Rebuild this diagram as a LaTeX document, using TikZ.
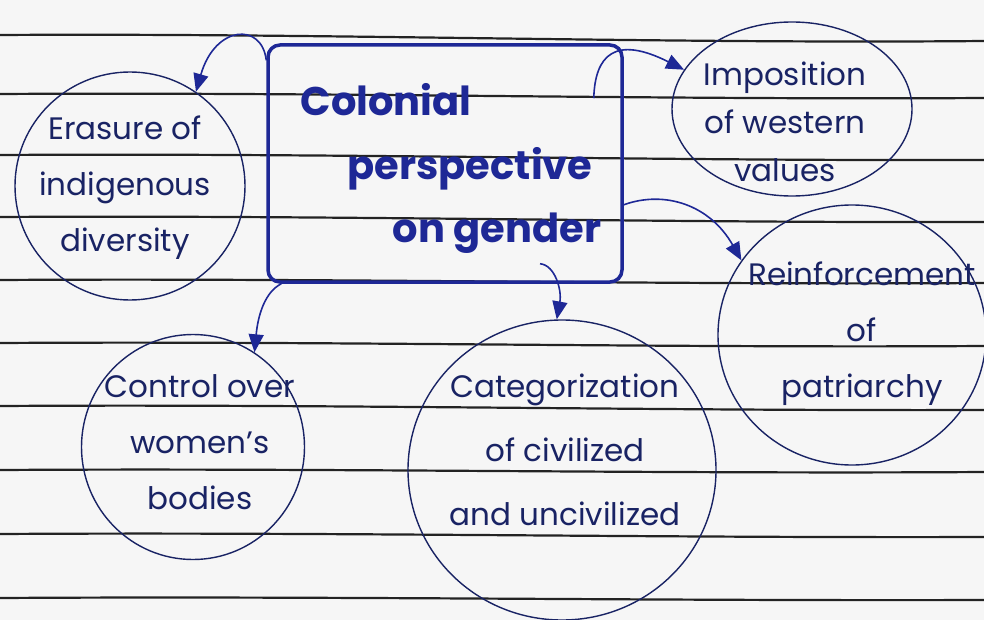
\documentclass[tikz,border=0pt]{standalone}
\usepackage{fontspec}
\setmainfont{Poppins}
\usetikzlibrary{arrows.meta,shapes.geometric,calc}
\definecolor{paper}{RGB}{246,246,246}
\definecolor{rulec}{RGB}{35,35,35}
\definecolor{ink}{RGB}{30,40,150}
\definecolor{navy}{RGB}{25,35,100}
\tikzset{
 ruleline/.style={draw=rulec, line width=2.2pt},
 bubble/.style={draw=navy, line width=1.4pt, ellipse, inner sep=0pt},
 bubbletext/.style={text=navy, align=center, font=\fontsize{31}{56}\selectfont},
 mainbox/.style={draw=ink, line width=3.5pt, rounded corners=12pt, rectangle, inner sep=0pt},
 maintext/.style={text=ink, font=\bfseries\fontsize{40}{46}\selectfont, anchor=base},
 conn/.style={draw=ink, line width=1.6pt, -{Triangle[length=18pt,width=15pt]}},
}
\begin{document}
\begin{tikzpicture}[x=1pt,y=-1pt]
\useasboundingbox (0,0) rectangle (984,620);
\fill[paper] (0,0) rectangle (984,620);
% ruled lines
\draw[ruleline] (0,35) .. controls (330,33) and (660,44) .. (984,41);
\draw[ruleline] (0,94) .. controls (330,92) and (660,100) .. (984,98);
\draw[ruleline] (0,155) .. controls (330,153) and (660,161) .. (984,160);
\draw[ruleline] (0,217) .. controls (330,215) and (660,223) .. (984,222);
\draw[ruleline] (0,280) .. controls (330,278) and (660,285) .. (984,283);
\draw[ruleline] (0,343) .. controls (330,341) and (660,348) .. (984,346);
\draw[ruleline] (0,406) .. controls (330,404) and (660,411) .. (984,410);
\draw[ruleline] (0,470) .. controls (330,468) and (660,474) .. (984,472);
\draw[ruleline] (0,534) .. controls (330,532) and (660,538) .. (984,537);
\draw[ruleline] (0,598) .. controls (330,596) and (660,601) .. (984,600);
% central box
\node[mainbox, minimum width=354pt, minimum height=237pt] (main) at (445,163.5) {};
\node[maintext] (t1) at (386,116) {Colonial};
\node[maintext] (t2) at (470,180) {perspective};
\node[maintext] (t3) at (497,242) {on gender};
% bubbles
\node[bubble, minimum width=230pt, minimum height=228pt] (erasure) at (130,186) {};
\node[bubbletext] (erasureT) at (125,188) {Erasure of\\indigenous\\diversity};
\node[bubble, minimum width=240pt, minimum height=174pt] (impos) at (792,109) {};
\node[bubbletext, font=\fontsize{31}{48}\selectfont] (imposT) at (785,122) {Imposition\\of western\\values};
\node[bubble, minimum width=268pt, minimum height=260pt] (reinf) at (852,335) {};
\node[bubbletext] (reinfT) at (862,334) {Reinforcement\\of\\patriarchy};
\node[bubble, minimum width=223pt, minimum height=225pt] (control) at (193,447) {};
\node[bubbletext] (controlT) at (200,442) {Control over\\women's\\bodies};
\node[bubble, minimum width=308pt, minimum height=300pt] (categ) at (562,470) {};
\node[bubbletext, font=\fontsize{31}{64}\selectfont] (categT) at (565,450) {Categorization\\of civilized\\and uncivilized};
% connectors
\draw[conn] (main.150) .. controls (262,22) and (215,25) .. (erasure.55);
\draw[conn] ($(main.north east)+(-30,55)$) .. controls (595,55) and (615,35) .. (impos.160);
\draw[conn] (main.-13) .. controls (665,190) and (710,205) .. (reinf.146);
\draw[conn] ($(main.south)+(95,-20)$) .. controls (555,265) and (562,290) .. (categ.92);
\draw[conn] ($(main.south west)+(15,0)$) .. controls (265,292) and (258,315) .. (control.57);
\end{tikzpicture}
\end{document}
